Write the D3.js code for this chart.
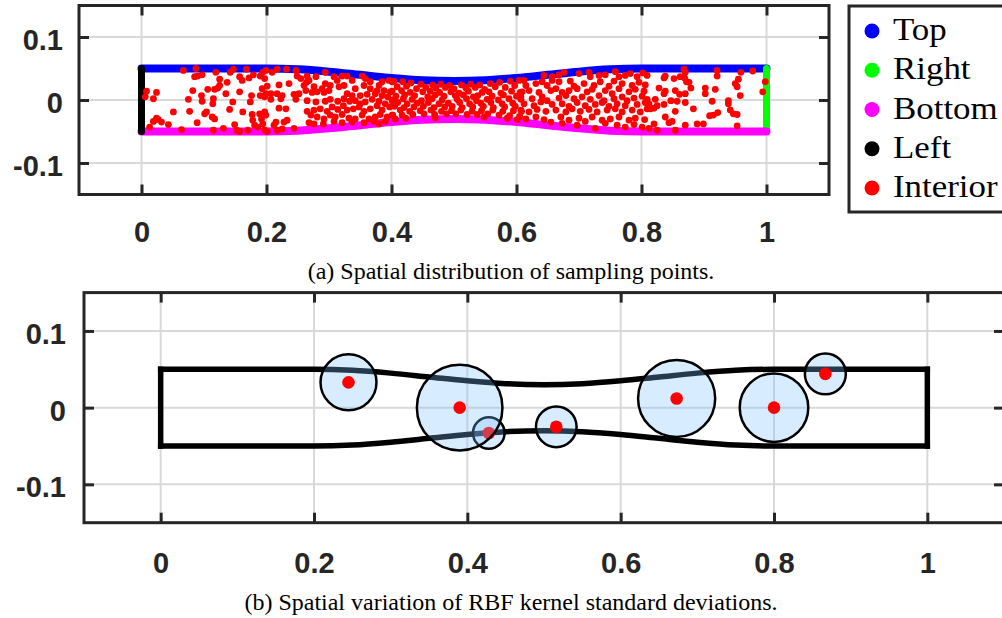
<!DOCTYPE html>
<html><head><meta charset="utf-8">
<script src="https://cdn.jsdelivr.net/npm/d3@7"></script>
<style>body{margin:0;background:#fff}svg{display:block}</style>
</head><body>
<svg id="c" width="1002" height="618"></svg>
<script>
// ---------------- data ----------------
const xTicks = [0, 0.2, 0.4, 0.6, 0.8, 1];
const xTickLabels = ["0", "0.2", "0.4", "0.6", "0.8", "1"];
const yTicks = [-0.1, 0, 0.1];
const yTickLabels = ["-0.1", "0", "0.1"];

const wallX      = [0, 0.1, 0.2, 0.25, 0.3, 0.35, 0.4, 0.45, 0.5, 0.55, 0.6, 0.65, 0.7, 0.75, 0.8, 0.9, 1];
const wallTop    = [0.05, 0.05, 0.05, 0.0487, 0.045, 0.040, 0.035, 0.0313, 0.030, 0.0313, 0.035, 0.040, 0.045, 0.0487, 0.05, 0.05, 0.05];
const wallBottom = [-0.05, -0.05, -0.05, -0.0487, -0.045, -0.040, -0.035, -0.0313, -0.030, -0.0313, -0.035, -0.040, -0.045, -0.0487, -0.05, -0.05, -0.05];
const leftWall  = [[0, -0.05], [0, 0.05]];
const rightWall = [[1, -0.05], [1, 0.05]];

const legendLabels = ["Top", "Right", "Bottom", "Left", "Interior"];
const legendColors = ["#0000ff", "#00ff00", "#ff00ff", "#000000", "#ff0000"];

const interior = [
// x 0 - 0.2
[0.067,0.047],[0.087,0.050],[0.090,0.038],[0.085,0.037],[0.097,0.040],[0.119,0.044],[0.125,0.033],[0.142,0.044],[0.147,0.049],[0.157,0.037],
[0.161,0.031],[0.168,0.049],[0.179,0.040],[0.172,0.035],[0.190,0.038],[0.194,0.044],[0.197,0.034],[0.008,0.014],[0.024,0.012],[0.006,0.005],
[0.019,0.002],[0.082,0.015],[0.106,0.017],[0.117,0.017],[0.122,0.019],[0.125,0.023],[0.137,0.028],[0.135,0.010],[0.115,0.002],[0.114,-0.006],
[0.096,0.007],[0.097,-0.002],[0.075,0.001],[0.146,-0.003],[0.157,0.013],[0.176,0.007],[0.174,-0.003],[0.193,0.018],[0.190,0.007],[0.197,0.005],
[0.051,-0.019],[0.077,-0.018],[0.101,-0.022],[0.104,-0.019],[0.113,-0.027],[0.117,-0.030],[0.089,-0.036],[0.141,-0.015],[0.162,-0.019],[0.177,-0.023],
[0.178,-0.032],[0.189,-0.022],[0.197,-0.019],[0.192,-0.030],[0.024,-0.029],[0.019,-0.034],[0.027,-0.031],[0.032,-0.035],[0.043,-0.039],[0.013,-0.043],
[0.064,-0.047],[0.115,-0.048],[0.131,-0.045],[0.149,-0.039],[0.152,-0.048],[0.157,-0.050],[0.170,-0.048],[0.181,-0.040],[0.186,-0.043],[0.197,-0.048],
[0.194,-0.038],
// x 0.2 - 0.4
[0.199,0.047],[0.209,0.044],[0.217,0.049],[0.232,0.049],[0.247,0.047],[0.249,0.038],[0.255,0.034],[0.265,0.038],[0.268,0.031],[0.279,0.037],
[0.294,0.044],[0.308,0.037],[0.313,0.031],[0.321,0.038],[0.329,0.038],[0.337,0.031],[0.353,0.038],[0.358,0.034],[0.366,0.029],[0.380,0.023],
[0.385,0.029],[0.396,0.031],[0.401,0.029],
[0.201,0.022],[0.220,0.024],[0.236,0.026],[0.260,0.023],[0.264,0.028],[0.276,0.021],[0.289,0.018],[0.294,0.026],[0.302,0.023],[0.316,0.021],
[0.324,0.023],[0.342,0.018],[0.356,0.023],[0.366,0.018],[0.377,0.015],[0.388,0.015],[0.398,0.013],
[0.199,0.010],[0.207,0.010],[0.217,0.010],[0.225,0.007],[0.244,0.009],[0.252,0.010],[0.263,0.015],[0.273,0.012],[0.281,0.013],[0.292,0.012],
[0.300,0.015],[0.329,0.010],[0.337,0.007],[0.350,0.007],[0.361,0.009],[0.374,0.010],[0.385,0.007],[0.394,0.005],
[0.207,0.001],[0.223,0.002],[0.247,0.001],[0.265,-0.001],[0.279,-0.003],[0.294,-0.002],[0.302,0.001],[0.314,-0.002],[0.324,0.002],[0.333,-0.002],
[0.342,-0.001],[0.350,-0.006],[0.358,-0.003],[0.369,0.001],[0.380,-0.002],[0.390,-0.006],[0.401,-0.001],
[0.220,-0.013],[0.231,-0.014],[0.265,-0.018],[0.276,-0.016],[0.286,-0.014],[0.297,-0.018],[0.305,-0.011],[0.314,-0.015],[0.323,-0.009],[0.329,-0.016],
[0.339,-0.014],[0.348,-0.011],[0.356,-0.018],[0.366,-0.014],[0.377,-0.009],[0.385,-0.016],[0.397,-0.011],
[0.199,-0.024],[0.271,-0.024],[0.281,-0.027],[0.292,-0.030],[0.302,-0.024],[0.310,-0.027],[0.321,-0.023],[0.332,-0.029],[0.342,-0.030],[0.353,-0.024],
[0.364,-0.030],[0.374,-0.027],[0.382,-0.023],[0.393,-0.027],[0.401,-0.024],
[0.215,-0.035],[0.228,-0.035],[0.233,-0.032],[0.212,-0.040],[0.225,-0.046],[0.217,-0.048],[0.201,-0.050],[0.244,-0.045],[0.268,-0.036],[0.276,-0.038],
[0.291,-0.038],[0.308,-0.034],[0.321,-0.036],[0.337,-0.035],[0.356,-0.036],[0.372,-0.034],[0.380,-0.038],[0.390,-0.034],
// x 0.4 - 0.6
[0.404,0.030],[0.418,0.029],[0.431,0.027],[0.447,0.025],[0.466,0.024],[0.479,0.025],[0.493,0.023],[0.512,0.024],[0.527,0.025],[0.541,0.024],
[0.558,0.026],[0.573,0.028],[0.590,0.030],[0.604,0.031],
[0.409,0.021],[0.424,0.022],[0.440,0.018],[0.455,0.020],[0.471,0.019],[0.486,0.020],[0.500,0.018],[0.519,0.019],[0.534,0.020],[0.549,0.017],
[0.566,0.021],[0.582,0.020],[0.597,0.023],
[0.401,0.014],[0.416,0.015],[0.430,0.012],[0.450,0.013],[0.462,0.014],[0.477,0.012],[0.495,0.013],[0.508,0.011],[0.523,0.014],[0.545,0.012],
[0.556,0.013],[0.575,0.011],[0.592,0.014],[0.606,0.012],
[0.407,0.006],[0.421,0.008],[0.437,0.007],[0.458,0.005],[0.470,0.008],[0.484,0.006],[0.502,0.007],[0.515,0.008],[0.531,0.005],[0.538,0.007],
[0.561,0.006],[0.579,0.008],[0.600,0.006],
[0.403,0.000],[0.419,0.002],[0.433,0.001],[0.448,-0.001],[0.465,0.002],[0.481,0.000],[0.505,0.001],[0.520,0.002],[0.536,-0.001],[0.553,0.001],
[0.571,0.000],[0.588,0.002],[0.607,0.001],
[0.410,-0.004],[0.425,-0.006],[0.441,-0.005],[0.459,-0.004],[0.476,-0.006],[0.491,-0.005],[0.509,-0.004],[0.525,-0.006],[0.543,-0.005],[0.559,-0.004],
[0.577,-0.006],[0.594,-0.005],
[0.405,-0.010],[0.420,-0.012],[0.436,-0.011],[0.451,-0.010],[0.468,-0.012],[0.485,-0.011],[0.497,-0.010],[0.513,-0.012],[0.530,-0.011],[0.547,-0.010],
[0.563,-0.012],[0.581,-0.011],[0.598,-0.010],
[0.414,-0.016],[0.429,-0.018],[0.446,-0.017],[0.463,-0.016],[0.480,-0.018],[0.496,-0.017],[0.511,-0.016],[0.529,-0.018],[0.544,-0.017],[0.562,-0.016],
[0.578,-0.018],[0.595,-0.017],[0.608,-0.018],
[0.402,-0.024],[0.417,-0.024],[0.434,-0.023],[0.452,-0.022],[0.469,-0.023],[0.488,-0.022],[0.503,-0.022],[0.521,-0.023],[0.537,-0.023],[0.554,-0.022],
[0.572,-0.024],[0.589,-0.025],[0.605,-0.026],
[0.406,-0.030],[0.423,-0.029],[0.585,-0.029],[0.601,-0.031],[0.470,-0.028],[0.548,-0.027],
// x 0.6 - 0.8
[0.612,0.031],[0.644,0.039],[0.657,0.037],[0.668,0.040],[0.676,0.044],[0.700,0.042],[0.716,0.044],[0.718,0.037],[0.732,0.039],[0.742,0.040],
[0.758,0.045],[0.764,0.037],[0.774,0.039],[0.782,0.042],[0.793,0.037],[0.802,0.043],[0.809,0.039],
[0.615,0.023],[0.631,0.026],[0.641,0.029],[0.649,0.023],[0.657,0.031],[0.668,0.029],[0.686,0.030],[0.692,0.022],[0.708,0.026],[0.724,0.023],
[0.734,0.029],[0.748,0.022],[0.756,0.030],[0.769,0.026],[0.785,0.023],[0.796,0.028],[0.806,0.024],
[0.609,0.013],[0.620,0.015],[0.636,0.012],[0.655,0.015],[0.663,0.018],[0.673,0.012],[0.684,0.015],[0.697,0.018],[0.713,0.013],[0.721,0.017],
[0.742,0.015],[0.753,0.010],[0.764,0.018],[0.780,0.013],[0.790,0.017],[0.804,0.014],
[0.607,0.005],[0.625,0.002],[0.641,0.005],[0.649,-0.001],[0.668,0.003],[0.679,0.007],[0.692,0.002],[0.705,0.005],[0.718,0.001],[0.732,0.007],
[0.740,-0.001],[0.756,0.002],[0.769,0.005],[0.777,-0.001],[0.788,0.003],[0.801,0.006],[0.809,0.001],
[0.612,-0.006],[0.628,-0.009],[0.639,-0.003],[0.657,-0.007],[0.673,-0.006],[0.684,-0.010],[0.697,-0.004],[0.710,-0.009],[0.726,-0.007],[0.737,-0.004],
[0.748,-0.010],[0.761,-0.006],[0.774,-0.009],[0.793,-0.007],[0.806,-0.004],
[0.607,-0.016],[0.620,-0.019],[0.633,-0.015],[0.647,-0.018],[0.663,-0.016],[0.679,-0.019],[0.689,-0.014],[0.702,-0.018],[0.716,-0.015],[0.729,-0.019],
[0.745,-0.016],[0.758,-0.014],[0.769,-0.019],[0.785,-0.016],[0.798,-0.019],[0.809,-0.014],
[0.615,-0.030],[0.631,-0.027],[0.644,-0.031],[0.655,-0.035],[0.671,-0.027],[0.684,-0.032],[0.700,-0.029],[0.710,-0.034],[0.721,-0.027],[0.737,-0.032],
[0.750,-0.030],[0.764,-0.027],[0.780,-0.032],[0.790,-0.029],[0.805,-0.031],
[0.673,-0.037],[0.697,-0.040],[0.726,-0.045],[0.742,-0.037],[0.761,-0.040],[0.774,-0.043],[0.788,-0.039],[0.801,-0.043],
// x 0.8 - 1
[0.868,0.049],[0.870,0.044],[0.921,0.047],[0.959,0.044],[0.978,0.046],[0.836,0.035],[0.838,0.038],[0.852,0.034],[0.862,0.037],[0.869,0.035],
[0.872,0.029],[0.876,0.028],[0.921,0.038],[0.955,0.033],[0.950,0.026],[0.953,0.021],[0.998,0.029],[0.828,0.019],[0.836,0.010],[0.838,0.014],
[0.854,0.015],[0.861,0.009],[0.870,0.010],[0.879,0.019],[0.902,0.019],[0.902,0.010],[0.918,0.017],[0.958,0.007],[0.994,0.013],[0.812,-0.006],
[0.822,0.001],[0.825,-0.009],[0.836,-0.007],[0.847,-0.001],[0.857,-0.002],[0.870,-0.004],[0.913,-0.002],[0.939,-0.001],[0.939,-0.006],[0.814,-0.014],
[0.820,-0.013],[0.838,-0.027],[0.854,-0.018],[0.883,-0.014],[0.915,-0.024],[0.922,-0.020],[0.909,-0.025],[0.942,-0.016],[0.947,-0.022],[0.953,-0.023],
[0.820,-0.038],[0.844,-0.036],[0.849,-0.034],[0.870,-0.040],[0.889,-0.038],[0.899,-0.038],[0.825,-0.048],[0.854,-0.048],[0.953,-0.041],[0.812,-0.045]
];

// RBF kernels (drawing order as in the figure)
const kernelX     = [0.245, 0.428, 0.390, 0.516, 0.673, 0.800, 0.867];
const kernelY     = [0.033, -0.033, 0.000, -0.025, 0.012, 0.000, 0.044];
const kernelSigma = [0.0365, 0.0206, 0.0558, 0.0265, 0.0503, 0.0447, 0.0267];

const captionA = "(a) Spatial distribution of sampling points.";
const captionB = "(b) Spatial variation of RBF kernel standard deviations.";

// ---------------- drawing ----------------
const svg = d3.select("#c");
const axisColor = "#262626", gridColor = "#d9d9d9";
const tickFont = "'Liberation Sans', Arial, Helvetica, sans-serif";
const serifFont = "'Liberation Serif', 'Times New Roman', serif";

function grid(xs, ys) {
  const [x0, x1] = xs.range(), [y0, y1] = ys.range();
  const g = svg.append("g");
  g.selectAll(".gx").data(xTicks).join("line")
    .attr("x1", d => xs(d)).attr("x2", d => xs(d)).attr("y1", y1).attr("y2", y0)
    .attr("stroke", gridColor).attr("stroke-width", 2);
  g.selectAll(".gy").data(yTicks).join("line")
    .attr("y1", d => ys(d)).attr("y2", d => ys(d)).attr("x1", x0).attr("x2", x1)
    .attr("stroke", gridColor).attr("stroke-width", 2);
}

function axes(xs, ys, padLeft, padBottom) {
  const [x0, x1] = xs.range(), [y0, y1] = ys.range();
  const style = sel => {
    sel.select(".domain").remove();
    sel.selectAll(".tick line").attr("stroke", axisColor).attr("stroke-width", 3);
    sel.selectAll(".tick text").attr("fill", axisColor)
      .style("font-family", tickFont).style("font-weight", "bold").style("font-size", "29px");
  };
  svg.append("g").attr("transform", `translate(0,${y0})`)
    .call(d3.axisBottom(xs).tickValues(xTicks).tickFormat((d, i) => xTickLabels[i])
      .tickSizeInner(-10).tickSizeOuter(0).tickPadding(padBottom)).call(style);
  svg.append("g").attr("transform", `translate(0,${y1})`)
    .call(d3.axisTop(xs).tickValues(xTicks).tickFormat("").tickSizeInner(-10).tickSizeOuter(0)).call(style);
  svg.append("g").attr("transform", `translate(${x0},0)`)
    .call(d3.axisLeft(ys).tickValues(yTicks).tickFormat((d, i) => yTickLabels[i])
      .tickSizeInner(-10).tickSizeOuter(0).tickPadding(padLeft)).call(style)
    .selectAll(".tick text").attr("dy", "0.43em");
  svg.append("g").attr("transform", `translate(${x1},0)`)
    .call(d3.axisRight(ys).tickValues(yTicks).tickFormat("").tickSizeInner(-10).tickSizeOuter(0)).call(style);
  svg.append("rect").attr("x", x0).attr("y", y1).attr("width", x1 - x0).attr("height", y0 - y1)
    .attr("fill", "none").attr("stroke", axisColor).attr("stroke-width", 3);
}

// ----- panel (a) -----
const xa = d3.scaleLinear().domain([-0.1, 1.1]).range([79, 829]);
const ya = d3.scaleLinear().domain([-0.15, 0.15]).range([194.5, 5.5]);
grid(xa, ya);

const wallLineA = d3.line().x(d => xa(d[0])).y(d => ya(d[1])).curve(d3.curveMonotoneX);
const straightA = d3.line().x(d => xa(d[0])).y(d => ya(d[1]));
const topPts = wallX.map((x, i) => [x, wallTop[i]]);
const botPts = wallX.map((x, i) => [x, wallBottom[i]]);

const ga = svg.append("g");
ga.append("path").attr("d", wallLineA(topPts)).attr("fill", "none")
  .attr("stroke", legendColors[0]).attr("stroke-width", 8).attr("stroke-linecap", "round");
ga.append("path").attr("d", straightA(rightWall)).attr("fill", "none")
  .attr("stroke", legendColors[1]).attr("stroke-width", 7).attr("stroke-linecap", "round");
ga.append("path").attr("d", wallLineA(botPts)).attr("fill", "none")
  .attr("stroke", legendColors[2]).attr("stroke-width", 8).attr("stroke-linecap", "round");
ga.append("path").attr("d", straightA(leftWall)).attr("fill", "none")
  .attr("stroke", legendColors[3]).attr("stroke-width", 7).attr("stroke-linecap", "round");
ga.selectAll("circle.pt").data(interior).join("circle")
  .attr("cx", d => xa(d[0])).attr("cy", d => ya(d[1])).attr("r", 3.4).attr("fill", legendColors[4]);

axes(xa, ya, 16, 27);

// legend
const lg = svg.append("g");
lg.append("rect").attr("x", 849).attr("y", 6).attr("width", 200).attr("height", 206)
  .attr("fill", "#fff").attr("stroke", axisColor).attr("stroke-width", 3);
const ly = d3.scalePoint().domain(legendLabels).range([31, 188]);
lg.selectAll("circle").data(legendLabels).join("circle")
  .attr("cx", 872).attr("cy", d => ly(d)).attr("r", 7.5).attr("fill", (d, i) => legendColors[i]);
lg.selectAll("text").data(legendLabels).join("text")
  .attr("x", 893).attr("y", d => ly(d) + 9).text(d => d)
  .style("font-family", serifFont).style("font-size", "32px").attr("fill", "#000")
  .each(function () {
    const w = this.getComputedTextLength();
    d3.select(this).attr("textLength", w * 1.09).attr("lengthAdjust", "spacingAndGlyphs");
  });

svg.append("text").attr("x", 511).attr("y", 279).attr("text-anchor", "middle").text(captionA)
  .style("font-family", serifFont).style("font-size", "24px").attr("fill", "#000");

// ----- panel (b) -----
const xb = d3.scaleLinear().domain([-0.1, 1.1]).range([84, 1004]);
const yb = d3.scaleLinear().domain([-0.15, 0.15]).range([522.7, 292.6]);
grid(xb, yb);

const wallLineB = d3.line().x(d => xb(d[0])).y(d => yb(d[1])).curve(d3.curveMonotoneX);
const straightB = d3.line().x(d => xb(d[0])).y(d => yb(d[1]));
const gb = svg.append("g").attr("fill", "none").attr("stroke", "#000").attr("stroke-width", 5.5).attr("stroke-linecap", "square");
gb.append("path").attr("d", wallLineB(topPts));
gb.append("path").attr("d", wallLineB(botPts));
gb.append("path").attr("d", straightB(leftWall));
gb.append("path").attr("d", straightB(rightWall));

const kernels = kernelX.map((x, i) => ({x, y: kernelY[i], s: kernelSigma[i]}));
const kg = svg.append("g");
kernels.forEach(k => {
  kg.append("circle").attr("cx", xb(k.x)).attr("cy", yb(k.y)).attr("r", xb(k.x + k.s) - xb(k.x))
    .attr("fill", "rgb(127,191,255)").attr("fill-opacity", 0.3)
    .attr("stroke", "#000").attr("stroke-width", 2.5);
  kg.append("circle").attr("cx", xb(k.x)).attr("cy", yb(k.y)).attr("r", 6.3).attr("fill", "#ff0000");
});

axes(xb, yb, 18, 30);

svg.append("text").attr("x", 511).attr("y", 610).attr("text-anchor", "middle").text(captionB)
  .style("font-family", serifFont).style("font-size", "24px").attr("fill", "#000");
</script>
</body></html>
